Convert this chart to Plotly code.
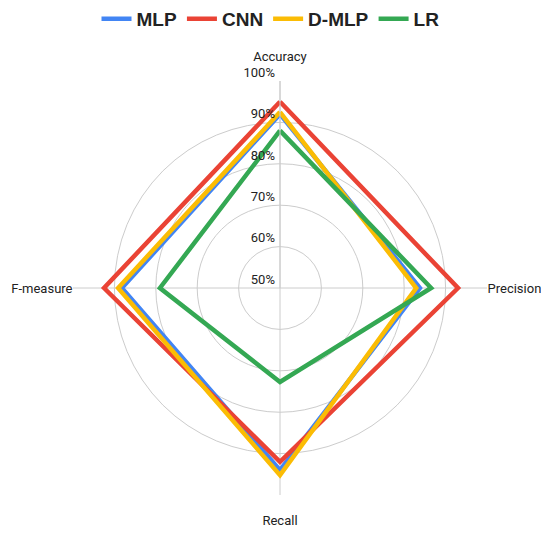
import plotly.graph_objects as go

categories = ["Accuracy", "Precision", "Recall", "F-measure"]
# an extra line break pushes the top and bottom labels outward
category_labels = ["Accuracy<br>&nbsp;", "Precision", "&nbsp;<br>Recall", "F-measure"]
series_names = ["MLP", "CNN", "D-MLP", "LR"]
mlp = [92.0, 83.8, 94.0, 88.2]
cnn = [95.0, 93.0, 92.0, 92.5]
dmlp = [92.5, 82.9, 95.2, 89.1]
lr = [88.0, 86.5, 72.7, 79.0]
colors = ["#4285F4", "#EA4335", "#FBBC04", "#34A853"]
tick_values = [50, 60, 70, 80, 90, 100]
tick_labels = [f"{v}%<br>&nbsp;" for v in tick_values]

fig = go.Figure()
for name, vals, col in zip(series_names, [mlp, cnn, dmlp, lr], colors):
    fig.add_trace(go.Scatterpolar(
        r=vals + vals[:1],
        theta=categories + categories[:1],
        mode="lines",
        name=name,
        line=dict(color=col, width=4.5),
    ))

W, H = 541, 533
fig.update_layout(
    width=W, height=H,
    margin=dict(l=0, r=0, t=0, b=0),
    paper_bgcolor="white",
    plot_bgcolor="white",
    font=dict(family="Roboto", size=13, color="#222222"),
    showlegend=True,
    legend=dict(
        orientation="h", x=0.5, xanchor="center", y=1.0, yanchor="top",
        font=dict(family="Liberation Sans", size=19, color="#222222", weight="bold"),
        itemwidth=30,
    ),
    polar=dict(
        domain=dict(x=[73 / W, 487 / W], y=[1 - 495 / H, 1 - 81 / H]),
        bgcolor="white",
        radialaxis=dict(
            range=[50, 100],
            tickvals=tick_values,
            ticktext=tick_labels,
            angle=90,
            tickangle=90,
            side="counterclockwise",
            showline=True,
            linecolor="#cccccc",
            linewidth=1,
            gridcolor="#cccccc",
            ticks="",
            tickfont=dict(family="Roboto", size=13, color="#222222"),
        ),
        angularaxis=dict(
            rotation=90,
            direction="clockwise",
            tickvals=categories,
            ticktext=category_labels,
            showline=False,
            gridcolor="#cccccc",
            ticks="",
            tickfont=dict(family="Roboto", size=13, color="#222222"),
        ),
    ),
)

fig.write_html("out.html")
